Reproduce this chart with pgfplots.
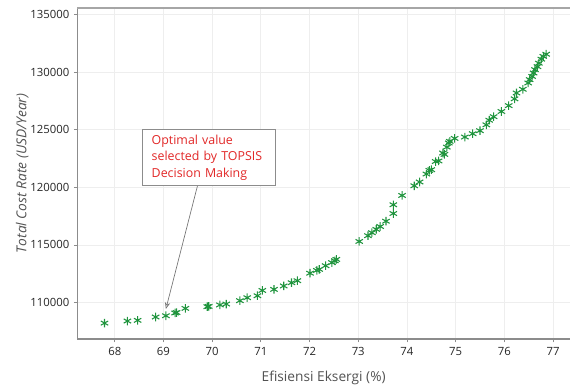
\documentclass[border=0pt]{standalone}
\usepackage{pgfplots}
\pgfplotsset{compat=1.18}
\usetikzlibrary{arrows.meta}
\usepackage{fontspec}
\setmainfont{Open Sans}
\setsansfont{Open Sans}
\definecolor{markgreen}{RGB}{31,148,61}
\definecolor{annred}{RGB}{226,40,40}
\definecolor{axgray}{RGB}{140,140,140}
\definecolor{gridgray}{RGB}{238,238,238}
\begin{document}
\begin{tikzpicture}
\begin{axis}[
  scale only axis,
  width=370pt, height=248.5pt,
  xmin=67.23, xmax=77.35,
  ymin=106820, ymax=135600,
  axis lines=left,
  axis line style={-, draw=axgray, line width=0.8pt},
  xtick={68,69,70,71,72,73,74,75,76,77},
  xticklabels={68,69,70,71,72,73,74,75,76,77},
  ytick={110000,115000,120000,125000,130000,135000},
  yticklabels={110000,115000,120000,125000,130000,135000},
  scaled y ticks=false,
  scaled x ticks=false,
  tick align=outside,
  major tick length=2.5pt,
  tick style={draw=axgray, line width=0.6pt},
  grid=major,
  major grid style={draw=gridgray, line width=0.6pt},
  ticklabel style={font=\fontsize{8.5}{10}\selectfont, text=black!85},
  xlabel={Efisiensi Eksergi (\%)},
  ylabel={\itshape Total Cost Rate (USD/Year)},
  label style={font=\fontsize{10.3}{12}\selectfont, text=black!68},
  xlabel style={yshift=-5pt},
  ylabel style={yshift=-5.5pt},
  clip=false,
]
\addplot[only marks, mark=asterisk, mark size=3.2pt, color=markgreen, mark options={line width=0.8pt}] coordinates {
(67.79,108200) (68.26,108380) (68.47,108440) (68.84,108730) (69.05,108840)
(69.24,109080) (69.27,109120) (69.45,109480) (69.90,109630) (69.93,109650)
(70.16,109780) (70.29,109860) (70.57,110150) (70.72,110410) (70.93,110580)
(71.03,111040) (71.27,111130) (71.47,111430) (71.63,111710) (71.75,111890)
(72.01,112540) (72.15,112780) (72.20,112870) (72.33,113190) (72.46,113460)
(72.52,113620) (72.55,113740) (73.02,115300) (73.20,115800) (73.28,116060)
(73.37,116350) (73.45,116600) (73.57,117060) (73.72,117730) (73.72,118490)
(73.90,119300) (74.15,120140) (74.26,120470) (74.40,121160) (74.46,121480)
(74.50,121540) (74.59,122250) (74.65,122300) (74.74,122990) (74.77,122870)
(74.82,123500) (74.86,123860) (74.88,124000) (74.98,124260) (75.19,124380)
(75.35,124670) (75.50,124930) (75.63,125440) (75.69,125840) (75.78,126150)
(75.94,126600) (76.09,127110) (76.21,127700) (76.25,128210) (76.38,128530)
(76.49,129080) (76.52,129370) (76.57,129650) (76.60,129950) (76.63,130240)
(76.68,130500) (76.71,130800) (76.76,131150) (76.80,131390) (76.86,131580)
};
\draw[draw=black!35, line width=1.4pt] (rel axis cs:0,1) -- (rel axis cs:1,1);
\draw[draw=black!55, line width=0.5pt, -{Stealth[open, length=5pt, width=4pt]}] (axis cs:69.71,120322) -- (axis cs:69.05,109426);
\node[draw=black!45, line width=0.6pt, fill=white, anchor=north west, inner xsep=7pt, inner ysep=4pt, text width=86pt, align=left, text=annred, font=\fontsize{9.3}{12.5}\selectfont] at (axis cs:68.56,125079) {Optimal value\\selected by TOPSIS\\Decision Making};
\end{axis}
\path ([xshift=-58pt,yshift=6pt]current axis.north west) -- ([yshift=-35.8pt]current axis.south east);
\end{tikzpicture}
\end{document}
